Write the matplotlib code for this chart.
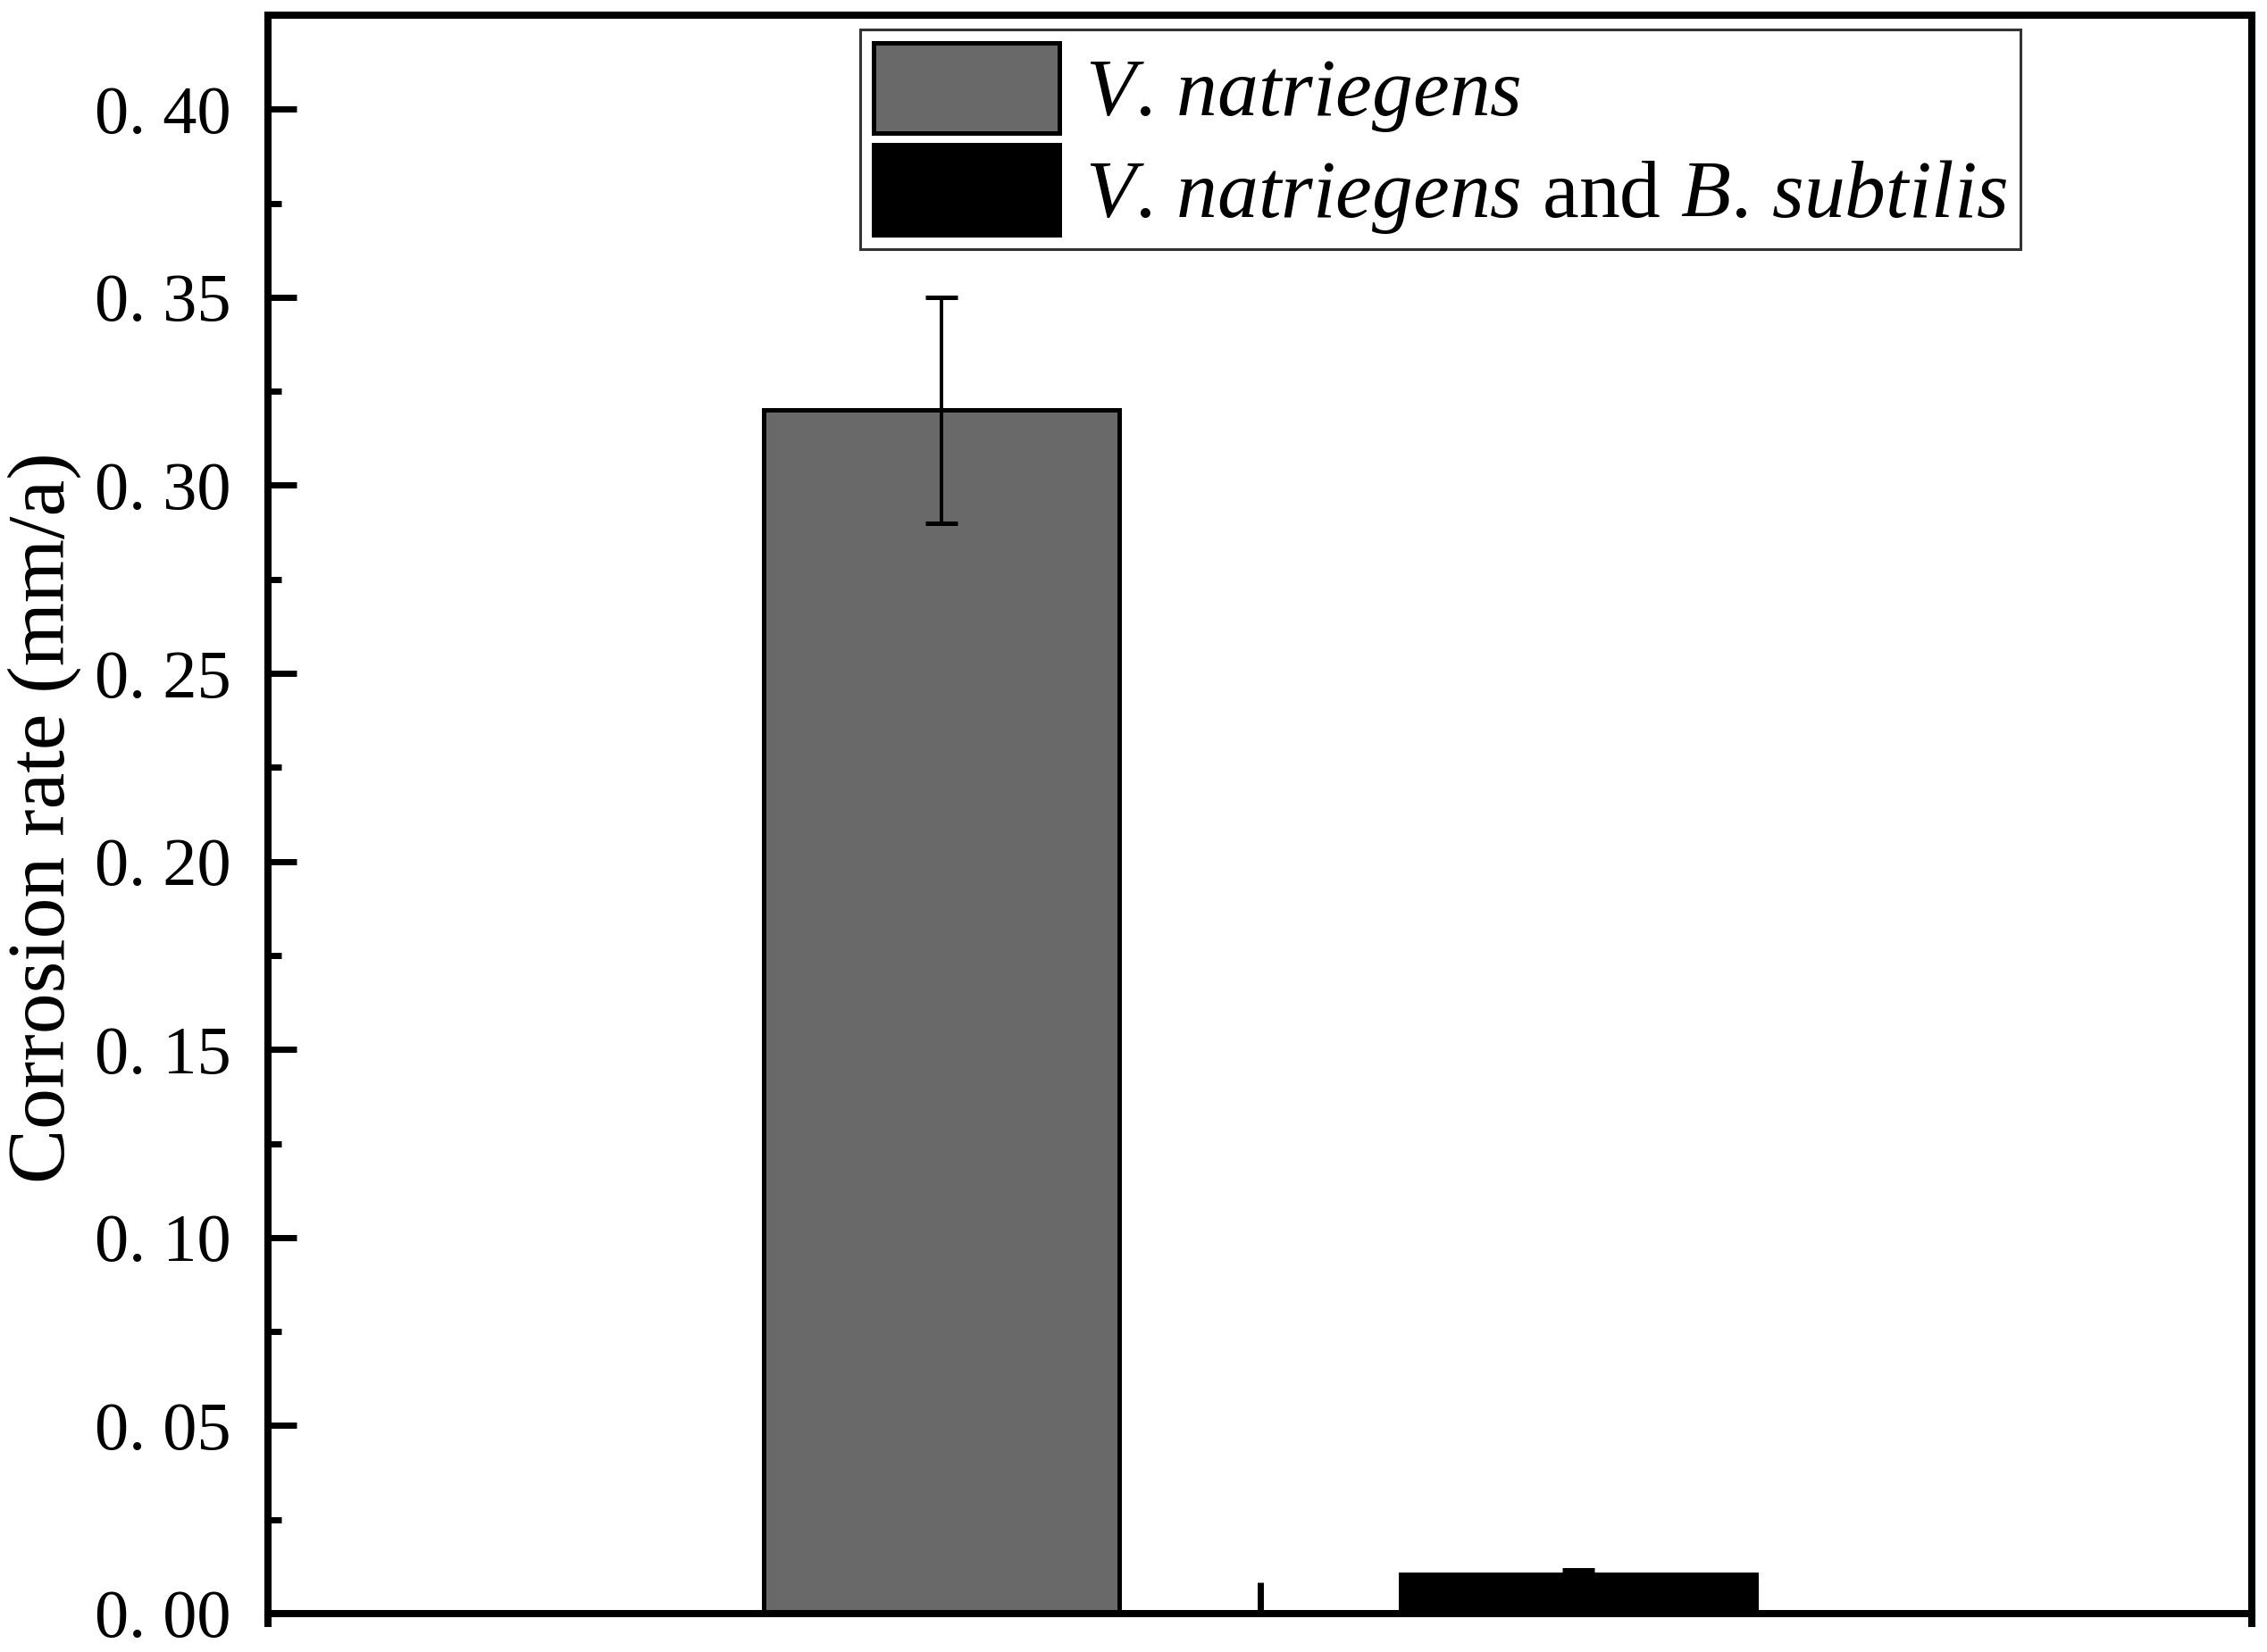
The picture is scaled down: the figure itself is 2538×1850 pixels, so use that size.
import matplotlib
matplotlib.use("Agg")
import matplotlib.pyplot as plt
from matplotlib.ticker import FixedLocator, MultipleLocator

# ---- data ----
series_labels = [r"$\mathit{V}$. $\mathit{natriegens}$",
                 r"$\mathit{V}$. $\mathit{natriegens}$ and $\mathit{B}$. $\mathit{subtilis}$"]
values = [0.32, 0.0105]
errors = [0.03, 0.0012]
bar_colors = ["#696969", "#000000"]
y_ticks = [0.00, 0.05, 0.10, 0.15, 0.20, 0.25, 0.30, 0.35, 0.40]
y_tick_labels = ["0. 00", "0. 05", "0. 10", "0. 15", "0. 20", "0. 25", "0. 30", "0. 35", "0. 40"]
y_label = "Corrosion rate (mm/a)"

plt.rcParams["font.family"] = ["Liberation Serif", "DejaVu Serif"]
plt.rcParams["mathtext.fontset"] = "custom"
plt.rcParams["mathtext.rm"] = "Liberation Serif"
plt.rcParams["mathtext.it"] = "Liberation Serif:italic"
plt.rcParams["mathtext.bf"] = "Liberation Serif:bold"

DPI = 200
fig = plt.figure(figsize=(2538 / DPI, 1850 / DPI), dpi=DPI)
ax = fig.add_axes([300 / 2538, 1 - 1807 / 1850, (2521 - 300) / 2538, (1807 - 17) / 1850])

center = 1.0
offsets = [-0.321, 0.321]
width = 0.358
handles = []
for off, v, e, c, lab in zip(offsets, values, errors, bar_colors, series_labels):
    b = ax.bar(center + off, v, width=width, color=c, edgecolor="black",
               linewidth=1.8, label=lab, zorder=2)
    ax.errorbar(center + off, v, yerr=e, fmt="none", ecolor="black",
                elinewidth=1.4, capsize=6.5, capthick=1.8, zorder=3)
    handles.append(b)

ax.set_xlim(0, 2)
ax.set_ylim(0, 0.425)

for s in ax.spines.values():
    s.set_linewidth(2.9)
    s.set_color("black")

ax.yaxis.set_major_locator(FixedLocator(y_ticks))
ax.set_yticklabels(y_tick_labels)
ax.yaxis.set_minor_locator(MultipleLocator(0.025))
ax.tick_params(axis="y", which="major", direction="in", length=11.5, width=2.5,
               pad=14.8, labelsize=27.5, left=True, right=False)
ax.tick_params(axis="y", which="minor", direction="in", length=5.4, width=2.5,
               left=True, right=False)

ax.xaxis.set_major_locator(FixedLocator([center]))
ax.xaxis.set_minor_locator(FixedLocator([0, 2]))
ax.tick_params(axis="x", which="major", direction="in", length=12.6, width=2.5,
               labelbottom=False, top=False)
ax.tick_params(axis="x", which="minor", direction="out", length=5.4, width=2.9,
               labelbottom=False, top=False)

ax.set_ylabel(y_label, fontsize=33, va="center")
ax.yaxis.set_label_coords(-0.1126, 0.498)

leg = ax.legend(handles=handles, labels=series_labels, loc="upper left",
                bbox_to_anchor=(0.2985, 1 - 16 / 1790), borderaxespad=0,
                fontsize=33, frameon=True, fancybox=False, edgecolor="black",
                handlelength=2.27, handleheight=1.32, handletextpad=0.32,
                labelspacing=0.13, borderpad=0.16)
leg.get_frame().set_linewidth(1.1)

fig.savefig("out.png", dpi=DPI, facecolor="white")
